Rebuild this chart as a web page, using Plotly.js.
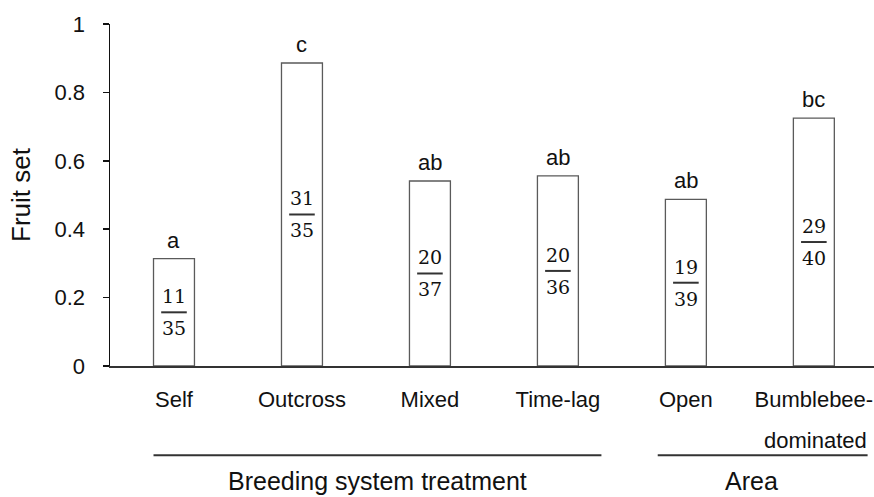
<!DOCTYPE html>
<html>
<head>
<meta charset="utf-8">
<script src="https://cdn.plot.ly/plotly-3.0.1.min.js"></script>
<style>html,body{margin:0;padding:0;background:#fff}#chart{width:874px;height:497px}</style>
</head>
<body>
<div id="chart"></div>
<script>
const categories = ['Self','Outcross','Mixed','Time-lag','Open','Bumblebee-dominated'];
const tickLine1 = ['Self','Outcross','Mixed','Time-lag','Open','Bumblebee-'];
const tickLine2 = ['','','','','','dominated'];
const fruitSet = [0.314, 0.886, 0.541, 0.556, 0.487, 0.725];
const numerators = ['11','31','20','20','19','29'];
const denominators = ['35','35','37','36','39','40'];
const letters = ['a','c','ab','ab','ab','bc'];
const groupNames = ['Breeding system treatment','Area'];
const groupSpans = [[0,3],[4,5]];

const xs = categories.map((c,i)=>i);
const sans = 'Liberation Sans, Arial, sans-serif';
const serif = 'DejaVu Serif, serif';

const trace = {
  type:'bar', x: xs, y: fruitSet, width: 0.32,
  marker:{color:'#ffffff', line:{color:'#5a5a5a', width:1.3}},
  hoverinfo:'none', cliponaxis:false
};

const annotations = [];
const shapes = [];
xs.forEach((x,i)=>{
  const v = fruitSet[i];
  annotations.push({x:x, y:v, xref:'x', yref:'y', text:letters[i], showarrow:false,
    yanchor:'bottom', yshift:4, font:{family:sans, size:22, color:'#111'}});
  annotations.push({x:x, y:v/2, xref:'x', yref:'y', text:numerators[i], showarrow:false,
    yanchor:'middle', yshift:16, font:{family:serif, size:19, color:'#111'}});
  annotations.push({x:x, y:v/2, xref:'x', yref:'y', text:denominators[i], showarrow:false,
    yanchor:'middle', yshift:-16, font:{family:serif, size:19, color:'#111'}});
  shapes.push({type:'line', xref:'x', yref:'y', x0:x-0.1, x1:x+0.1, y0:v/2, y1:v/2,
    line:{color:'#333', width:2}});
  if (tickLine2[i]) {
    annotations.push({x:x, y:0, xref:'x', yref:'paper', text:tickLine2[i], showarrow:false,
      yanchor:'middle', yshift:-74, xshift:2, font:{family:sans, size:22, color:'#111'}});
  }
});
groupSpans.forEach((s,g)=>{
  const x0 = s[0]-0.16, x1 = s[1]+ (g===0 ? 0.34 : 0.42);
  const xl0 = g===0 ? x0 : s[0]-0.22;
  shapes.push({type:'line', xref:'x', yref:'paper', x0:xl0, x1:x1, y0:-0.261, y1:-0.261,
    line:{color:'#333', width:2}});
  annotations.push({x:(xl0+x1)/2 - (g===0 ? 0 : 0.09), y:0, xref:'x', yref:'paper', text:groupNames[g], showarrow:false,
    yanchor:'bottom', yshift:-130, borderpad:0, font:{family:sans, size:25, color:'#111'}});
});

const layout = {
  width:874, height:497,
  margin:{l:110, r:0, t:24, b:131},
  paper_bgcolor:'#fff', plot_bgcolor:'#fff',
  showlegend:false,
  xaxis:{range:[-0.5,5.47], tickvals:xs, ticktext:tickLine1, showgrid:false, zeroline:false,
    showline:true, linecolor:'#333', linewidth:1.5, ticks:'', ticklabelstandoff:13,
    tickfont:{family:sans, size:22, color:'#111'}, fixedrange:true},
  yaxis:{range:[0,1], dtick:0.2, tick0:0, showgrid:false, zeroline:false, showline:true,
    linecolor:'#111', linewidth:1.5, ticks:'outside', ticklen:6, tickwidth:1.5, tickcolor:'#111',
    ticklabelstandoff:13,
    tickfont:{family:sans, size:22, color:'#111'},
    title:{text:'Fruit set', font:{family:sans, size:26, color:'#111'}, standoff:16}},
  annotations: annotations,
  shapes: shapes
};
Plotly.newPlot('chart',[trace],layout,{staticPlot:true});
</script>
</body>
</html>
